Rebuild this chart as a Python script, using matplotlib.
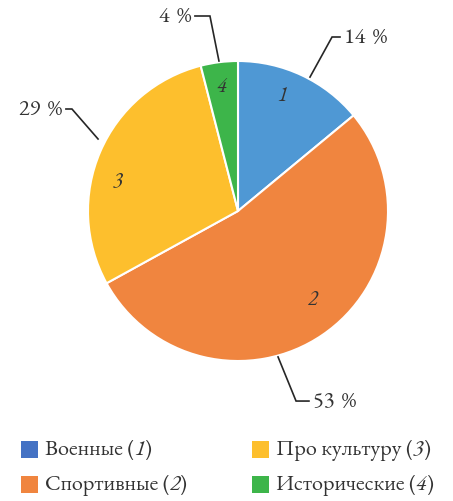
import matplotlib
matplotlib.use('Agg')
import matplotlib.pyplot as plt
from matplotlib import font_manager
from matplotlib.patches import Rectangle

#region Data

categories = ['Военные', 'Спортивные', 'Про культуру', 'Исторические']
numbers = ['1', '2', '3', '4']
shares = [14, 53, 29, 4]
pie_colors = ['#4F98D4', '#F0853F', '#FDBF2D', '#3DB54A']
legend_colors = ['#4472C4', '#F0853F', '#FDBF2D', '#3DB54A']

#endregion

#region Layout

# slice number positions (data units)
number_pos = [(0.293, 0.767), (0.5, -0.587), (-0.8, 0.193), (-0.107, 0.833)]

# leader lines: (slice point, elbow, end) in data units, label side
leaders = [
    [(0.48, 0.893), (0.627, 1.16), (0.68, 1.16), 'left'],
    [(0.267, -0.973), (0.387, -1.267), (0.473, -1.267), 'left'],
    [(-0.933, 0.48), (-1.107, 0.68), (-1.147, 0.68), 'right'],
    [(-0.127, 1.0), (-0.187, 1.30), (-0.287, 1.30), 'right'],
]

# legend grid in pixels
legend_cols_px = [21, 252]
legend_rows_px = [450, 485]

#endregion

installed = set(f.name for f in font_manager.fontManager.ttflist)
serif = next(n for n in ['EB Garamond', 'Cormorant Garamond', 'Libertinus Serif', 'Liberation Serif']
             if n in installed)
plt.rcParams['font.family'] = [serif, 'DejaVu Serif']

W, H = 453, 502
fig = plt.figure(figsize=(W / 100, H / 100), dpi=100)
ax = fig.add_axes([88 / W, 1 - 362 / H, 300 / W, 300 / H])

wedges, texts = ax.pie(shares, colors=pie_colors, startangle=90, counterclock=False,
                       labels=numbers, labeldistance=0.8,
                       wedgeprops=dict(edgecolor='white', linewidth=1.5),
                       textprops=dict(fontsize=15, style='italic', color='#333333'))
for t, p in zip(texts, number_pos):
    t.set_position(p)
    t.set_ha('center')
    t.set_va('center')
ax.set_xlim(-1, 1)
ax.set_ylim(-1, 1)
ax.set_aspect('auto')

for (p0, p1, p2, side), s in zip(leaders, shares):
    ax.plot([p0[0], p1[0], p2[0]], [p0[1], p1[1], p2[1]], color='#262626', lw=1.2,
            clip_on=False, solid_joinstyle='miter')
    dx = 0.025 if side == 'left' else -0.025
    ax.text(p2[0] + dx, p2[1], f'{s}\u2004%', ha=side, va='center', fontsize=16,
            color='#333333')

# legend drawn by hand so the numbers can be italic
for i, (name, num, col) in enumerate(zip(categories, numbers, legend_colors)):
    x = legend_cols_px[i // 2]
    y = legend_rows_px[i % 2]
    fig.add_artist(Rectangle((x / W, 1 - (y + 8.5) / H), 17 / W, 17 / H,
                             transform=fig.transFigure, facecolor=col, edgecolor='none'))
    t1 = fig.text((x + 24) / W, 1 - y / H, f'{name} (', fontsize=16, va='center',
                  color='#333333')
    t2 = ax.annotate(num, xy=(1, 0), xycoords=t1, va='bottom', ha='left', fontsize=16,
                     style='italic', color='#333333', annotation_clip=False)
    ax.annotate(')', xy=(1, 0), xycoords=t2, va='bottom', ha='left', fontsize=16,
                color='#333333', annotation_clip=False)

fig.savefig('out.png', dpi=100)
